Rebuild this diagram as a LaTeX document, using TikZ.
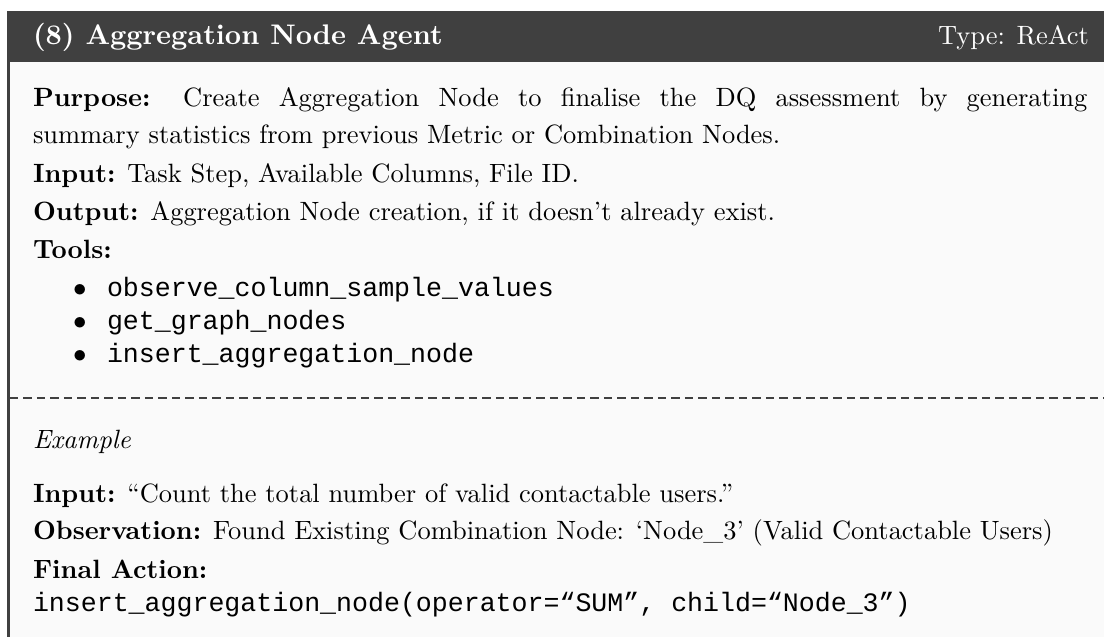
\documentclass[tikz,border=0pt]{standalone}
\usepackage{fontspec}
\setmonofont{Liberation Mono}
\definecolor{hdr}{HTML}{404040}
\definecolor{bodybg}{HTML}{FAFAFA}
\begin{document}
\begin{tikzpicture}[x=0.37037pt,y=-0.37037pt,
  txt/.style={anchor=base west,inner sep=0pt,outer sep=0pt,font=\fontsize{9.8}{12}\selectfont},
  hdrtxt/.style={inner sep=0pt,outer sep=0pt,text=white,font=\fontsize{9.8}{12}\selectfont},
  code/.style={anchor=base west,inner sep=0pt,outer sep=0pt,font=\fontsize{9.85}{11}\ttfamily},
  bul/.style={anchor=base west,inner sep=0pt,outer sep=0pt,font=\fontsize{9.8}{12}\selectfont},
  sep/.style={draw=hdr,dash pattern=on 3pt off 2pt,line width=0.4pt}]
\useasboundingbox (0,0) rectangle (1104,637);
\fill[white] (0,0) rectangle (1104,637);
\fill[bodybg] (7,62) rectangle (1104,637);
\fill[hdr] (7,11) rectangle (1104,62);
\fill[hdr] (7,62) rectangle (10,637);
% header
\node[hdrtxt,anchor=base west,font=\fontsize{10.5}{12}\selectfont\bfseries] (title) at (33,44) {(8) Aggregation Node Agent};
\node[hdrtxt,anchor=base east] (type) at (1089,44) {Type: ReAct};
% body
\node[txt] (p1) at (33,106) {\makebox[390.5pt][s]{\textbf{Purpose:} Create Aggregation Node to finalise the DQ assessment by generating}};
\node[txt] (p2) at (33,143) {summary statistics from previous Metric or Combination Nodes.};
\node[txt] (in) at (33,182) {\textbf{Input:} Task Step, Available Columns, File ID.};
\node[txt] (out) at (33,220) {\textbf{Output:} Aggregation Node creation, if it doesn’t already exist.};
\node[txt] (tools) at (33,258) {\textbf{Tools:}};
\node[bul] (b1) at (73,296) {$\bullet$};
\node[code] (t1) at (107,296) {observe\_column\_sample\_values};
\node[bul] (b2) at (73,329) {$\bullet$};
\node[code] (t2) at (107,329) {get\_graph\_nodes};
\node[bul] (b3) at (73,362) {$\bullet$};
\node[code] (t3) at (107,362) {insert\_aggregation\_node};
% separator
\coordinate (sepL) at (10,398);
\coordinate (sepR) at (1104,398);
\draw[sep] (sepL) -- (sepR);
% example
\node[txt] (ex) at (33,448) {\itshape Example};
\node[txt] (ein) at (33,502) {\textbf{Input:} “Count the total number of valid contactable users.”};
\node[txt] (eobs) at (33,539) {\textbf{Observation:} Found Existing Combination Node: ‘Node\_3’ (Valid Contactable Users)};
\node[txt] (efa) at (33,578) {\textbf{Final Action:}};
\node[code] (ecode) at (33,611) {insert\_aggregation\_node(operator=“SUM”, child=“Node\_3”)};
\end{tikzpicture}
\end{document}
